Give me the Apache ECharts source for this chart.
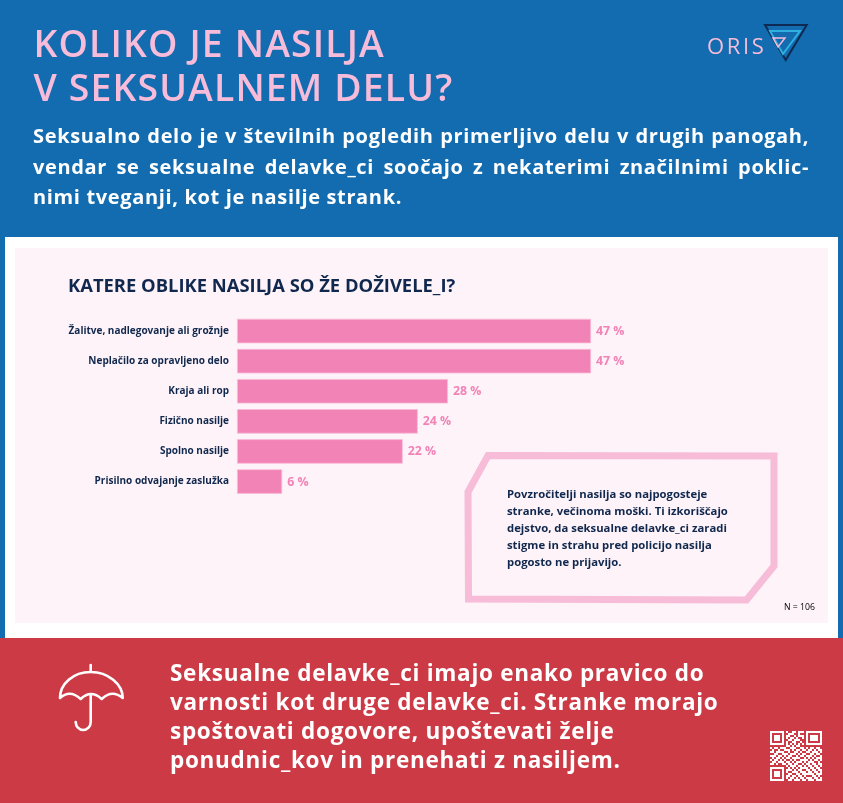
<!DOCTYPE html>
<html><head><meta charset="utf-8">
<script src="https://cdn.jsdelivr.net/npm/echarts@6/dist/echarts.min.js"></script>
<style>
html,body{margin:0;padding:0;background:#fff}
#page{position:relative;width:843px;height:803px;overflow:hidden;font-family:"Open Sans",sans-serif}
#chart{position:absolute;left:0;top:0;width:843px;height:803px}
.t{position:absolute;margin:0}
#head{left:33.5px;top:21px;font-size:37.4px;line-height:44px;letter-spacing:1.14px;color:#f6bcd9;font-weight:600}
#intro{left:33px;top:121px;width:776px;font-size:20px;line-height:30.5px;font-weight:700;color:#fff;letter-spacing:.65px}
#intro div{text-align:justify;text-align-last:justify;white-space:nowrap}
#intro div:last-child{text-align-last:left}
#oris{left:707px;top:30px;font-size:22px;line-height:30px;letter-spacing:2.6px;color:#f6bcd9}
#foot{left:170px;top:658px;width:640px;font-size:22.5px;line-height:29px;font-weight:700;color:#fff;letter-spacing:.72px}
</style></head><body>
<div id="page">
<div id="chart"></div>
<div class="t" id="head">KOLIKO JE NASILJA<br>V SEKSUALNEM DELU?</div>
<div class="t" id="oris">ORIS</div>
<div class="t" id="intro"><div>Seksualno delo je v številnih pogledih primerljivo delu v drugih panogah,</div><div>vendar se seksualne delavke_ci soočajo z nekaterimi značilnimi poklic-</div><div>nimi tveganji, kot je nasilje strank.</div></div>
<div class="t" id="foot">Seksualne delavke_ci imajo enako pravico do<br>varnosti kot druge delavke_ci. Stranke morajo<br>spoštovati dogovore, upoštevati želje<br>ponudnic_kov in prenehati z nasiljem.</div>
</div>
<script>
const categories = ['Žalitve, nadlegovanje ali grožnje','Neplačilo za opravljeno delo','Kraja ali rop','Fizično nasilje','Spolno nasilje','Prisilno odvajanje zaslužka'];
const values = [47,47,28,24,22,6];
const chartTitle = 'KATERE OBLIKE NASILJA SO ŽE DOŽIVELE_I?';
const noteText = 'Povzročitelji nasilja so najpogosteje\nstranke, večinoma moški. Ti izkoriščajo\ndejstvo, da seksualne delavke_ci zaradi\nstigme in strahu pred policijo nasilja\npogosto ne prijavijo.';
const sampleNote = 'N = 106';
const qrRows = [
'11111110100110111011111111',
'10000010011100100010000001',
'10111010110010111010111101',
'10111010101101001010111101',
'10111010011011100010111101',
'10000010100110010010000001',
'11111110101010101011111111',
'00000000110101100000000000',
'10110111001110011010110110',
'01001001110101101101101011',
'11011110010011010011011101',
'00110011101110101100110110',
'11101101011001011011101001',
'01011010110111100101010111',
'10110101001010011110101101',
'01101110110101110101110010',
'11010011011011001011011011',
'00000000101110110101101101',
'11111110010101011110110110',
'10000010111010110011011011',
'10111010100111011101101101',
'10111010011001101111110111',
'10111010110110110100011010',
'10000010101101011011101101',
'11111110011011101101110111',
'00000000000000000000000000'];
const qrEls = [];
const qrX = 770, qrY = 731, qrM = 2;
qrRows.forEach((r,j)=>[...r].forEach((c,i)=>{ if(c==='1') qrEls.push({type:'rect',z:1,shape:{x:qrX+i*qrM,y:qrY+j*qrM,width:qrM,height:qrM},style:{fill:'#fff'}}); }));
echarts.graphic.registerShape('umbrella', echarts.graphic.extendPath('M60 698 C60 684 73 672 90.7 672 C108 672 122.7 684 122.7 698 Q112 689 101.7 699 Q91 689 80.7 699 Q70 689 60 698 Z M90.7 665 L90.7 672 M90.7 695 L90.7 722 A7.5 8 0 0 1 75.7 722'));
const chart = echarts.init(document.getElementById('chart'),null,{renderer:'canvas'});
chart.setOption({
  animation:false,
  backgroundColor:'#fff',
  title:{text:chartTitle,left:68,top:277.5,padding:0,textStyle:{fontFamily:'Open Sans',fontSize:18.4,fontWeight:700,color:'#10284e'}},
  grid:{left:237,top:316,width:452,height:180.6,containLabel:false},
  xAxis:{type:'value',min:0,max:60,show:false},
  yAxis:{type:'category',inverse:true,data:categories,axisLine:{show:false},axisTick:{show:false},
    axisLabel:{margin:8,fontFamily:'Open Sans',fontSize:10,fontWeight:700,color:'#10284e',align:'right'}},
  series:[{type:'bar',data:values,barWidth:24.5,
    itemStyle:{color:'#f283b6',borderColor:'#f8bcd8',borderWidth:.8},
    label:{show:true,position:'right',distance:5,offset:[0,.5],formatter:p=>p.value+' %',fontFamily:'Open Sans',fontSize:12.3,fontWeight:700,color:'#f283b6'}}],
  graphic:{elements:[
    {type:'rect',z:-10,shape:{x:0,y:0,width:843,height:237},style:{fill:'#136bb0'}},
    {type:'rect',z:-10,shape:{x:0,y:237,width:5,height:401},style:{fill:'#136bb0'}},
    {type:'rect',z:-10,shape:{x:838,y:237,width:5,height:401},style:{fill:'#136bb0'}},
    {type:'rect',z:-9,shape:{x:15,y:248,width:813,height:375},style:{fill:'#fef3f8'}},
    {type:'rect',z:-10,shape:{x:0,y:638,width:843,height:165},style:{fill:'#cb3a45'}},
    {type:'polygon',z:1,shape:{points:[[765,25],[806.7,25],[785.7,60]]},style:{fill:'none',stroke:'#0f2a52',lineWidth:2}},
    {type:'polygon',z:1,shape:{points:[[770,31],[800,31],[783,54]]},style:{fill:'none',stroke:'#2fb0e0',lineWidth:2}},
    {type:'polygon',z:1,shape:{points:[[773,38],[785,38],[778,47]]},style:{fill:'none',stroke:'#f6bcd9',lineWidth:1.5}},
    {type:'polygon',z:1,shape:{points:[[488,455.5],[774,456],[774,566],[746.5,600],[468.5,599],[468,492]]},style:{fill:'none',stroke:'#f6bcd8',lineWidth:7,lineJoin:'miter'}},
    {type:'text',z:2,x:507,y:486,style:{text:noteText,fontFamily:'Open Sans',fontSize:11.3,fontWeight:700,lineHeight:17,fill:'#10284e'}},
    {type:'text',z:2,x:784,y:603.5,style:{text:sampleNote,fontFamily:'Open Sans',fontSize:8.7,fill:'#000'}},
    {type:'umbrella',z:1,style:{fill:'none',stroke:'#fff',lineWidth:2.6,lineCap:'round',lineJoin:'round'}},
    ...qrEls
  ]}
});
</script></body></html>
